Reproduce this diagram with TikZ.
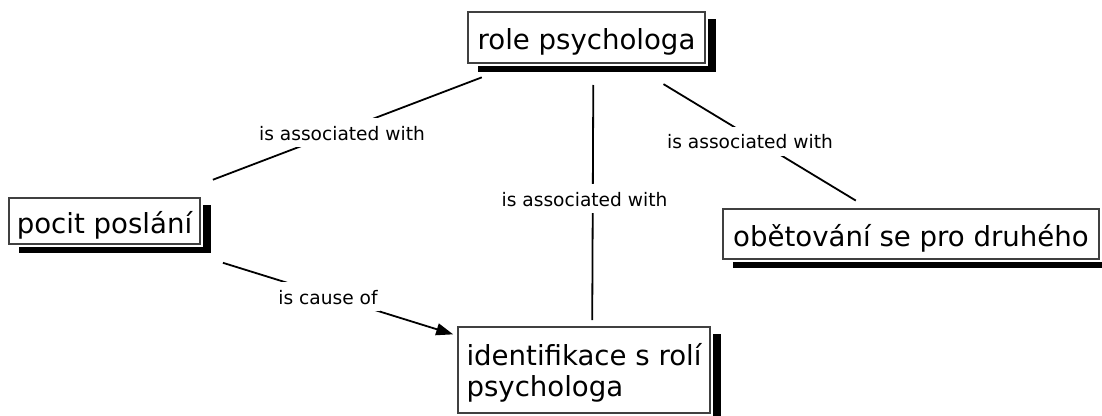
\documentclass[tikz,border=0pt]{standalone}
\usepackage{fontspec}
\setmainfont{DejaVu Sans}
\usetikzlibrary{arrows.meta,backgrounds}
\begin{document}
\begin{tikzpicture}[x=1pt,y=-1pt,
  concept/.style={draw=black!75, line width=1.1pt, fill=white, inner sep=0pt,
    font=\fontsize{27.6pt}{31pt}\selectfont},
  oneline/.style={text height=24pt, text depth=0pt},
  linkphrase/.style={fill=white, inner xsep=2pt, inner ysep=5pt,
    text height=17pt, text depth=2pt, font=\fontsize{18.6pt}{22pt}\selectfont},
  conn/.style={line width=1.8pt, black},
]
\useasboundingbox (0,0) rectangle (1102,415);

% concepts
\node[concept, oneline, minimum width=237pt, minimum height=51pt] (role) at (586.5,37.5) {role psychologa};
\node[concept, oneline, minimum width=191pt, minimum height=46pt] (pocit) at (104.5,221) {pocit poslání};
\node[concept, oneline, minimum width=376pt, minimum height=50pt] (obet) at (911,234) {obětování se pro druhého};
\node[concept, align=left, text depth=0pt, minimum width=252pt, minimum height=86pt] (ident) at (584,370) {identifikace s rolí\\psychologa};

% drop shadows behind the concepts
\begin{scope}[on background layer]
  \foreach \n in {role,pocit,obet,ident} {
    \fill[black] ([shift={(10.5,8)}]\n.north west) rectangle ([shift={(10.5,8)}]\n.south east);
    \fill[white] ([shift={(-2.5,-2.5)}]\n.north west) rectangle ([shift={(2.5,2.5)}]\n.south east);
  }
\end{scope}

% connectors
\draw[conn, shorten <=112pt, shorten >=116pt] (role.center) -- (pocit.center);
\draw[conn, shorten <=47.5pt, shorten >=50pt] ([xshift=7pt]role.center) -- ([xshift=8pt]ident.center);
\draw[conn, shorten <=90pt, shorten >=64.5pt] (role.center) -- (obet.center);
\draw[conn, -{Triangle[length=17pt,width=12pt]}, shorten <=124pt, shorten >=137pt]
  ([yshift=-5pt]pocit.center) -- ([yshift=-5pt]ident.center);

% linking phrases
\node[linkphrase] (l1) at (342,132.5) {is associated with};
\node[linkphrase] (l2) at (584.5,198.5) {is associated with};
\node[linkphrase] (l3) at (750,141) {is associated with};
\node[linkphrase] (l4) at (328,296.5) {is cause of};
\end{tikzpicture}
\end{document}
